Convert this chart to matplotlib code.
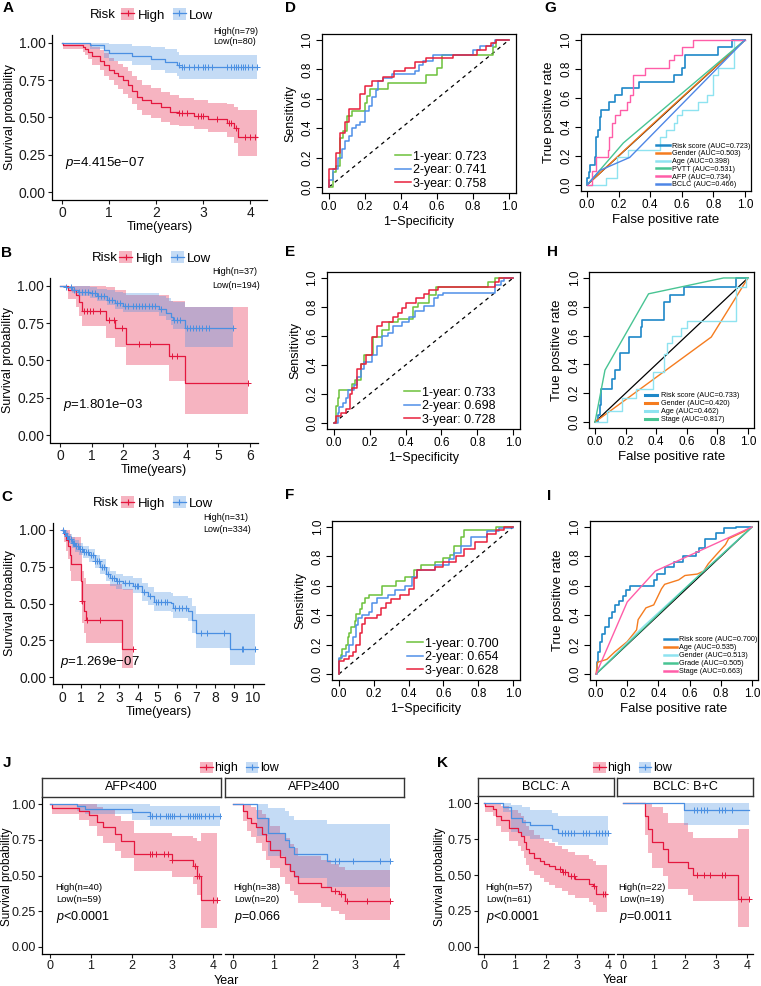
import numpy as np
import matplotlib
matplotlib.use("Agg")
import matplotlib.pyplot as plt
from matplotlib.patches import Patch
from matplotlib.lines import Line2D

plt.rcParams['font.family'] = ['Liberation Sans', 'DejaVu Sans']
plt.rcParams['mathtext.fontset'] = 'custom'
plt.rcParams['mathtext.rm'] = 'Liberation Sans'
plt.rcParams['mathtext.it'] = 'Liberation Sans:italic'

# ---------------- Kaplan-Meier data (time, survival, CI, censor times) ----------------
# Panel A
A_HIGH_T = [0, 0.02, 0.45, 0.5, 0.55, 0.65, 0.8, 0.9, 1.0, 1.1, 1.2, 1.3, 1.4, 1.5, 1.6, 1.7, 1.9, 2.1, 2.3, 2.5, 2.8, 3.1, 3.5, 3.65, 3.75]
A_HIGH_S = [1.0, 0.987, 0.975, 0.96, 0.94, 0.91, 0.88, 0.85, 0.82, 0.80, 0.78, 0.75, 0.72, 0.68, 0.64, 0.62, 0.60, 0.57, 0.54, 0.53, 0.51, 0.49, 0.46, 0.43, 0.37]
A_HIGH_UP = [1.0, 1.0, 1.0, 1.0, 0.99, 0.97, 0.95, 0.93, 0.9, 0.88, 0.86, 0.84, 0.81, 0.78, 0.75, 0.72, 0.7, 0.67, 0.65, 0.63, 0.62, 0.6, 0.59, 0.57, 0.55]
A_HIGH_LO = [1.0, 0.96, 0.94, 0.92, 0.89, 0.85, 0.82, 0.78, 0.75, 0.72, 0.69, 0.66, 0.63, 0.59, 0.55, 0.52, 0.5, 0.47, 0.45, 0.44, 0.42, 0.40, 0.37, 0.33, 0.24]
A_HIGH_END = 4.15
A_HIGH_CENS = [2.5, 2.55, 2.65, 2.9, 2.95, 3.0, 3.3, 3.55, 3.6, 3.7, 3.9, 4.0, 4.1]
A_LOW_T = [0, 0.6, 0.9, 1.0, 1.5, 1.9, 2.2, 2.45, 2.5]
A_LOW_S = [1.0, 0.987, 0.95, 0.935, 0.91, 0.89, 0.875, 0.85, 0.84]
A_LOW_UP = [1.0, 1.0, 1.0, 0.99, 0.98, 0.97, 0.96, 0.94, 0.92]
A_LOW_LO = [1.0, 0.96, 0.9, 0.88, 0.85, 0.82, 0.8, 0.78, 0.76]
A_LOW_END = 4.15
A_LOW_CENS = [2.48, 2.55, 2.6, 2.7, 2.8, 2.9, 3.0, 3.05, 3.1, 3.2, 3.5, 3.6, 3.65, 3.7, 3.75, 3.8, 3.85, 3.9, 3.95, 4.05, 4.15]

# Panel B
B_HIGH_T = [0, 0.25, 0.5, 0.6, 0.68, 1.45, 1.75, 2.1, 3.45, 3.94]
B_HIGH_S = [1.0, 0.97, 0.94, 0.89, 0.83, 0.77, 0.72, 0.61, 0.53, 0.35]
B_HIGH_UP = [1.0, 1.0, 1.0, 1.0, 1.0, 0.99, 0.97, 0.94, 0.9, 0.86]
B_HIGH_LO = [1.0, 0.91, 0.86, 0.80, 0.73, 0.65, 0.59, 0.47, 0.36, 0.14]
B_HIGH_END = 5.94
B_HIGH_CENS = [0.75, 0.85, 0.95, 1.05, 1.25, 1.55, 1.7, 1.95, 2.5, 2.85, 3.55, 3.7, 5.94]
B_LOW_T = [0, 0.2, 0.37, 0.58, 0.95, 1.16, 1.47, 1.74, 2.0, 3.13, 3.36, 3.5, 3.57, 3.94]
B_LOW_S = [1.0, 0.99, 0.97, 0.96, 0.95, 0.93, 0.905, 0.883, 0.865, 0.843, 0.82, 0.79, 0.77, 0.72]
B_LOW_UP = [1.0, 1.0, 1.0, 1.0, 0.99, 0.98, 0.97, 0.96, 0.95, 0.93, 0.92, 0.9, 0.89, 0.86]
B_LOW_LO = [1.0, 0.98, 0.95, 0.935, 0.92, 0.9, 0.87, 0.845, 0.825, 0.8, 0.77, 0.74, 0.71, 0.59]
B_LOW_END = 5.47
B_LOW_CENS = [0.2, 0.35, 0.45, 0.6, 0.7, 0.8, 0.9, 1.0, 1.1, 1.2, 1.3, 1.4, 1.55, 1.65, 1.8, 1.9, 2.05, 2.15,
              2.3, 2.4, 2.5, 2.6, 2.7, 2.8, 2.9, 3.0, 3.2, 3.6, 3.7, 3.8, 4.0, 4.1, 4.2, 4.3, 4.4, 4.5, 4.6, 4.7, 5.47]

# Panel C
C_HIGH_T = [0, 0.1, 0.2, 0.3, 0.4, 0.45, 0.98, 1.02, 1.15, 1.25, 3.15]
C_HIGH_S = [1.0, 0.97, 0.93, 0.89, 0.83, 0.77, 0.65, 0.52, 0.45, 0.39, 0.19]
C_HIGH_UP = [1.0, 1.0, 1.0, 1.0, 0.97, 0.95, 0.86, 0.72, 0.67, 0.63, 0.6]
C_HIGH_LO = [1.0, 0.92, 0.86, 0.8, 0.72, 0.65, 0.5, 0.37, 0.3, 0.23, 0.06]
C_HIGH_END = 3.7
C_HIGH_CENS = [1.05, 1.3, 2.0, 3.7]
C_LOW_T = [0, 0.1, 0.2, 0.3, 0.5, 0.7, 0.9, 1.1, 1.4, 1.7, 2.0, 2.3, 2.5, 2.8, 3.2, 3.7, 4.2, 4.5, 4.8, 5.7, 5.8, 6.6, 6.8, 7.0, 8.8]
C_LOW_S = [1.0, 0.98, 0.96, 0.94, 0.91, 0.89, 0.87, 0.85, 0.83, 0.79, 0.75, 0.70, 0.67, 0.65, 0.64, 0.62, 0.58, 0.55, 0.51, 0.505, 0.47, 0.45, 0.39, 0.30, 0.19]
C_LOW_UP = [1.0, 1.0, 0.99, 0.97, 0.95, 0.93, 0.91, 0.89, 0.87, 0.83, 0.8, 0.75, 0.72, 0.7, 0.69, 0.67, 0.64, 0.61, 0.58, 0.57, 0.55, 0.54, 0.48, 0.43, 0.43]
C_LOW_LO = [1.0, 0.96, 0.93, 0.91, 0.88, 0.85, 0.83, 0.81, 0.78, 0.74, 0.7, 0.65, 0.62, 0.6, 0.59, 0.57, 0.52, 0.49, 0.45, 0.44, 0.4, 0.38, 0.3, 0.2, 0.08]
C_LOW_END = 10.1
C_LOW_CENS = [0.05, 0.15, 0.25, 0.35, 0.45, 0.55, 0.65, 0.75, 0.85, 0.95, 1.05, 1.15, 1.25, 1.35, 1.5, 1.6, 1.75,
              1.85, 1.95, 2.1, 2.2, 2.4, 2.6, 2.7, 2.9, 3.0, 3.3, 3.5, 3.8, 3.9, 4.0, 4.3, 4.6, 4.9, 5.0, 5.2,
              5.4, 5.5, 5.9, 6.1, 6.3, 6.5, 7.3, 7.6, 8.5, 9.4, 9.5, 10.1]

# Panel J, AFP<400
J1_HIGH_T = [0, 0.05, 0.7, 0.95, 1.15, 1.3, 1.6, 1.75, 2.05, 3.0, 3.5, 3.6, 3.72]
J1_HIGH_S = [1.0, 0.975, 0.95, 0.925, 0.875, 0.84, 0.79, 0.74, 0.65, 0.61, 0.57, 0.5, 0.33]
J1_HIGH_UP = [1.0, 1.0, 1.0, 1.0, 0.98, 0.96, 0.92, 0.88, 0.80, 0.78, 0.76, 0.74, 0.80]
J1_HIGH_LO = [1.0, 0.93, 0.89, 0.85, 0.78, 0.73, 0.67, 0.62, 0.53, 0.49, 0.44, 0.36, 0.13]
J1_HIGH_END = 4.1
J1_HIGH_CENS = [2.45, 2.5, 2.6, 2.8, 2.9, 3.0, 3.55, 3.6, 3.65, 4.0, 4.1]
J1_LOW_T = [0, 0.65, 0.85, 2.0, 2.45]
J1_LOW_S = [1.0, 0.985, 0.965, 0.945, 0.92]
J1_LOW_UP = [1.0, 1.0, 1.0, 1.0, 0.99]
J1_LOW_LO = [1.0, 0.95, 0.93, 0.89, 0.85]
J1_LOW_END = 4.17
J1_LOW_CENS = [2.45, 2.5, 2.6, 2.7, 2.85, 2.9, 2.95, 3.0, 3.05, 3.2, 3.4, 3.45, 3.5, 3.55, 3.6, 3.65, 3.7, 3.8, 3.9, 4.0, 4.17]
# Panel J, AFP>=400
J2_HIGH_T = [0, 0.25, 0.35, 0.45, 0.55, 0.7, 0.82, 0.9, 1.15, 1.28, 1.4, 1.5, 1.6, 2.15, 2.4, 2.6, 2.75]
J2_HIGH_S = [1.0, 0.95, 0.9, 0.87, 0.84, 0.79, 0.74, 0.68, 0.63, 0.58, 0.53, 0.5, 0.45, 0.42, 0.39, 0.37, 0.32]
J2_HIGH_UP = [1.0, 1.0, 1.0, 0.98, 0.96, 0.93, 0.9, 0.85, 0.8, 0.76, 0.72, 0.69, 0.64, 0.61, 0.58, 0.56, 0.54]
J2_HIGH_LO = [1.0, 0.88, 0.81, 0.77, 0.73, 0.67, 0.61, 0.55, 0.49, 0.44, 0.39, 0.36, 0.31, 0.28, 0.25, 0.23, 0.19]
J2_HIGH_END = 3.86
J2_HIGH_CENS = [2.5, 2.65, 2.8, 3.3, 3.86]
J2_LOW_T = [0, 0.58, 0.86, 1.28, 1.37, 1.5, 2.3]
J2_LOW_S = [1.0, 0.9, 0.8, 0.75, 0.7, 0.65, 0.6]
J2_LOW_UP = [1.0, 1.0, 0.97, 0.95, 0.92, 0.89, 0.86]
J2_LOW_LO = [1.0, 0.78, 0.64, 0.58, 0.53, 0.48, 0.42]
J2_LOW_END = 3.86
J2_LOW_CENS = [2.5, 2.6, 2.95, 3.6, 3.86]

# Panel K, BCLC: A
K1_HIGH_T = [0, 0.05, 0.3, 0.4, 0.55, 0.8, 1.1, 1.2, 1.28, 1.35, 1.45, 1.6, 1.8, 1.95, 2.1, 2.3, 2.5, 2.7, 2.94, 3.4, 3.5, 3.6]
K1_HIGH_S = [1.0, 0.98, 0.96, 0.91, 0.88, 0.83, 0.8, 0.77, 0.73, 0.68, 0.65, 0.62, 0.6, 0.58, 0.56, 0.54, 0.52, 0.49, 0.47, 0.44, 0.42, 0.37]
K1_HIGH_UP = [1.0, 1.0, 1.0, 1.0, 0.98, 0.95, 0.93, 0.91, 0.88, 0.84, 0.81, 0.78, 0.76, 0.74, 0.72, 0.7, 0.68, 0.66, 0.64, 0.61, 0.6, 0.57]
K1_HIGH_LO = [1.0, 0.94, 0.91, 0.84, 0.8, 0.74, 0.7, 0.67, 0.62, 0.57, 0.53, 0.5, 0.48, 0.45, 0.43, 0.41, 0.39, 0.36, 0.34, 0.31, 0.29, 0.24]
K1_HIGH_END = 3.95
K1_HIGH_CENS = [2.45, 2.55, 2.6, 2.8, 2.9, 3.55, 3.85, 3.9]
K1_LOW_T = [0, 0.6, 0.87, 1.23, 1.5, 2.2, 2.4]
K1_LOW_S = [1.0, 0.975, 0.9, 0.87, 0.85, 0.82, 0.79]
K1_LOW_UP = [1.0, 1.0, 0.99, 0.97, 0.95, 0.93, 0.91]
K1_LOW_LO = [1.0, 0.94, 0.8, 0.77, 0.75, 0.73, 0.71]
K1_LOW_END = 4.0
K1_LOW_CENS = [2.5, 2.6, 2.7, 2.8, 2.9, 3.2, 3.3, 3.4, 3.6, 3.7, 3.8, 3.9, 4.0]
# Panel K, BCLC: B+C
K2_HIGH_T = [0, 0.72, 0.8, 0.95, 1.3, 1.45, 2.1, 2.25, 3.7]
K2_HIGH_S = [1.0, 0.91, 0.82, 0.73, 0.68, 0.59, 0.55, 0.5, 0.33]
K2_HIGH_UP = [1.0, 1.0, 1.0, 0.97, 0.93, 0.86, 0.8, 0.76, 0.82]
K2_HIGH_LO = [1.0, 0.78, 0.65, 0.55, 0.49, 0.4, 0.36, 0.32, 0.14]
K2_HIGH_END = 4.05
K2_HIGH_CENS = [2.4, 2.6, 2.8, 3.2, 3.3, 3.8, 4.05]
K2_LOW_T = [0, 1.97]
K2_LOW_S = [1.0, 0.95]
K2_LOW_UP = [1.0, 1.0]
K2_LOW_LO = [1.0, 0.85]
K2_LOW_END = 4.07
K2_LOW_CENS = [2.3, 2.4, 2.5, 2.6, 2.7, 3.1, 3.2, 3.3, 3.5]

# ---------------- ROC data (fpr, tpr) ----------------
D_1Y_FPR = [0, 0.02, 0.04, 0.06, 0.08, 0.1, 0.13, 0.2, 0.21, 0.23, 0.33, 0.54, 0.6, 0.63, 0.91, 0.93, 1.0]
D_1Y_TPR = [0, 0.1, 0.14, 0.33, 0.38, 0.48, 0.52, 0.57, 0.62, 0.67, 0.71, 0.76, 0.81, 0.9, 0.95, 1.0, 1.0]
D_2Y_FPR = [0, 0, 0.02, 0.05, 0.07, 0.09, 0.11, 0.13, 0.15, 0.17, 0.2, 0.22, 0.24, 0.26, 0.27, 0.3, 0.35, 0.48, 0.5, 0.52, 0.58, 0.8, 0.84, 0.91, 0.92, 1.0]
D_2Y_TPR = [0, 0.05, 0.12, 0.2, 0.26, 0.31, 0.35, 0.4, 0.42, 0.44, 0.52, 0.55, 0.61, 0.66, 0.72, 0.74, 0.77, 0.79, 0.83, 0.86, 0.9, 0.93, 0.96, 0.98, 1.0, 1.0]
D_3Y_FPR = [0, 0, 0.04, 0.06, 0.09, 0.11, 0.17, 0.2, 0.24, 0.3, 0.36, 0.42, 0.48, 0.54, 0.69, 0.82, 0.87, 0.9, 0.93, 1.0]
D_3Y_TPR = [0, 0.12, 0.23, 0.37, 0.44, 0.53, 0.63, 0.69, 0.72, 0.75, 0.79, 0.81, 0.85, 0.88, 0.90, 0.93, 0.96, 0.98, 1.0, 1.0]
D_AUC = ['1-year: 0.723', '2-year: 0.741', '3-year: 0.758']

E_1Y_FPR = [0, 0.01, 0.02, 0.03, 0.1, 0.12, 0.15, 0.17, 0.22, 0.27, 0.31, 0.36, 0.44, 0.47, 0.53, 0.57, 0.86, 0.9, 1.0]
E_1Y_TPR = [0, 0.12, 0.17, 0.23, 0.27, 0.3, 0.41, 0.47, 0.59, 0.64, 0.7, 0.72, 0.8, 0.83, 0.88, 0.94, 0.97, 1.0, 1.0]
E_2Y_FPR = [0, 0.02, 0.03, 0.05, 0.07, 0.08, 0.11, 0.13, 0.15, 0.17, 0.21, 0.24, 0.27, 0.3, 0.33, 0.38, 0.42, 0.45, 0.5, 0.56, 0.58, 0.61, 0.9, 0.93, 0.95, 1.0]
E_2Y_TPR = [0, 0.07, 0.11, 0.14, 0.17, 0.23, 0.26, 0.32, 0.37, 0.42, 0.47, 0.53, 0.6, 0.62, 0.67, 0.7, 0.73, 0.77, 0.81, 0.86, 0.88, 0.9, 0.95, 0.98, 1.0, 1.0]
E_3Y_FPR = [0, 0.01, 0.04, 0.07, 0.09, 0.1, 0.13, 0.15, 0.18, 0.21, 0.24, 0.27, 0.33, 0.36, 0.38, 0.4, 0.46, 0.5, 0.53, 0.58, 0.9, 0.92, 1.0]
E_3Y_TPR = [0, 0.05, 0.07, 0.1, 0.2, 0.24, 0.37, 0.41, 0.47, 0.59, 0.67, 0.7, 0.73, 0.76, 0.79, 0.83, 0.86, 0.89, 0.92, 0.94, 0.97, 1.0, 1.0]
E_AUC = ['1-year: 0.733', '2-year: 0.698', '3-year: 0.728']

F_1Y_FPR = [0, 0, 0.01, 0.02, 0.04, 0.05, 0.06, 0.07, 0.09, 0.1, 0.12, 0.13, 0.15, 0.17, 0.25, 0.33, 0.38, 0.43, 0.47, 0.55, 0.6, 0.64, 0.66, 0.7, 0.72, 0.9, 1.0]
F_1Y_TPR = [0, 0.1, 0.13, 0.17, 0.2, 0.25, 0.28, 0.32, 0.36, 0.41, 0.44, 0.48, 0.52, 0.54, 0.6, 0.63, 0.66, 0.71, 0.74, 0.76, 0.79, 0.81, 0.87, 0.93, 0.98, 1.0, 1.0]
F_2Y_FPR = [0, 0, 0.02, 0.04, 0.06, 0.08, 0.1, 0.11, 0.13, 0.17, 0.19, 0.22, 0.28, 0.32, 0.38, 0.42, 0.45, 0.55, 0.63, 0.66, 0.7, 0.76, 0.85, 0.92, 1.0]
F_2Y_TPR = [0, 0.11, 0.12, 0.15, 0.2, 0.25, 0.33, 0.38, 0.4, 0.42, 0.48, 0.52, 0.54, 0.57, 0.6, 0.66, 0.71, 0.74, 0.78, 0.82, 0.87, 0.93, 0.97, 0.99, 1.0]
F_3Y_FPR = [0, 0, 0.03, 0.06, 0.08, 0.1, 0.12, 0.13, 0.15, 0.22, 0.24, 0.27, 0.3, 0.35, 0.4, 0.43, 0.45, 0.55, 0.6, 0.67, 0.72, 0.78, 0.85, 0.9, 0.95, 1.0]
F_3Y_TPR = [0, 0.09, 0.1, 0.12, 0.15, 0.2, 0.28, 0.34, 0.38, 0.4, 0.45, 0.48, 0.51, 0.54, 0.58, 0.65, 0.71, 0.73, 0.76, 0.8, 0.85, 0.9, 0.95, 0.98, 1.0, 1.0]
F_AUC = ['1-year: 0.700', '2-year: 0.654', '3-year: 0.628']

G_RISK_FPR = [0, 0, 0.01, 0.02, 0.05, 0.06, 0.07, 0.08, 0.09, 0.14, 0.18, 0.22, 0.33, 0.55, 0.6, 0.62, 0.83, 0.92, 1.0]
G_RISK_TPR = [0, 0.05, 0.09, 0.14, 0.19, 0.33, 0.38, 0.47, 0.52, 0.57, 0.62, 0.67, 0.71, 0.76, 0.81, 0.9, 0.95, 1.0, 1.0]
G_GENDER_FPR = [0, 0.5, 1.0]
G_GENDER_TPR = [0, 0.505, 1.0]
G_AGE_FPR = [0, 0.12, 0.19, 0.26, 0.46, 0.5, 0.55, 0.57, 0.6, 0.7, 0.76, 0.8, 0.83, 0.93, 1.0]
G_AGE_TPR = [0, 0.05, 0.19, 0.24, 0.33, 0.38, 0.43, 0.48, 0.52, 0.57, 0.62, 0.76, 0.81, 1.0, 1.0]
G_PVTT_FPR = [0, 0.23, 1.0]
G_PVTT_TPR = [0, 0.29, 1.0]
G_AFP_FPR = [0, 0.03, 0.06, 0.13, 0.14, 0.16, 0.18, 0.21, 0.25, 0.27, 0.29, 0.37, 0.52, 0.55, 0.6, 0.67, 1.0]
G_AFP_TPR = [0, 0.1, 0.19, 0.24, 0.33, 0.43, 0.48, 0.52, 0.57, 0.62, 0.76, 0.81, 0.86, 0.9, 0.95, 1.0, 1.0]
G_BCLC_FPR = [0, 0.08, 0.27, 1.0]
G_BCLC_TPR = [0, 0.1, 0.19, 1.0]
G_LABELS = ['Risk score (AUC=0.723)', 'Gender (AUC=0.503)', 'Age (AUC=0.398)',
            'PVTT (AUC=0.531)', 'AFP (AUC=0.734)', 'BCLC (AUC=0.466)']

H_RISK_FPR = [0, 0.02, 0.03, 0.04, 0.11, 0.13, 0.165, 0.22, 0.3, 0.31, 0.45, 0.49, 0.58, 0.92, 1.0]
H_RISK_TPR = [0, 0.05, 0.12, 0.23, 0.3, 0.36, 0.48, 0.59, 0.66, 0.71, 0.83, 0.88, 0.94, 1.0, 1.0]
H_GENDER_FPR = [0, 0.76, 1.0]
H_GENDER_TPR = [0, 0.59, 1.0]
H_AGE_FPR = [0, 0.08, 0.175, 0.27, 0.38, 0.45, 0.47, 0.5, 0.56, 0.6, 0.92, 0.99, 1.0]
H_AGE_TPR = [0, 0.08, 0.165, 0.23, 0.35, 0.47, 0.55, 0.6, 0.65, 0.7, 0.94, 1.0, 1.0]
H_STAGE_FPR = [0, 0.065, 0.35, 0.84, 1.0]
H_STAGE_TPR = [0, 0.36, 0.89, 1.0, 1.0]
H_LABELS = ['Risk score (AUC=0.733)', 'Gender (AUC=0.420)', 'Age (AUC=0.462)', 'Stage (AUC=0.817)']

I_RISK_FPR = [0, 0.005, 0.015, 0.025, 0.04, 0.06, 0.08, 0.1, 0.12, 0.15, 0.17, 0.19, 0.22, 0.37, 0.39, 0.44, 0.5, 0.56, 0.64, 0.66, 0.7, 0.77, 0.82, 0.9, 1.0]
I_RISK_TPR = [0, 0.08, 0.15, 0.22, 0.27, 0.32, 0.38, 0.42, 0.47, 0.5, 0.53, 0.57, 0.6, 0.64, 0.68, 0.73, 0.76, 0.8, 0.83, 0.86, 0.92, 0.96, 0.99, 1.0, 1.0]
I_AGE_FPR = [0, 0.01, 0.07, 0.12, 0.2, 0.26, 0.27, 0.32, 0.37, 0.42, 0.44, 0.53, 0.57, 0.65, 0.69, 0.72, 0.77, 0.83, 0.85, 0.95, 1.0]
I_AGE_TPR = [0, 0.08, 0.1, 0.15, 0.22, 0.3, 0.37, 0.45, 0.47, 0.58, 0.61, 0.64, 0.67, 0.68, 0.7, 0.75, 0.81, 0.88, 0.92, 0.97, 1.0]
I_GENDER_FPR = [0, 0.3, 0.7, 1.0]
I_GENDER_TPR = [0, 0.32, 0.71, 1.0]
I_GRADE_FPR = [0, 0.6, 1.0]
I_GRADE_TPR = [0, 0.61, 1.0]
I_STAGE_FPR = [0, 0.2, 0.38, 1.0]
I_STAGE_TPR = [0, 0.49, 0.70, 1.0]
I_LABELS = ['Risk score (AUC=0.700)', 'Age (AUC=0.535)', 'Gender (AUC=0.513)',
            'Grade (AUC=0.505)', 'Stage (AUC=0.663)']

SURV_TICKS = [0, 0.25, 0.5, 0.75, 1.0]
SURV_TICKLABELS = ['0.00', '0.25', '0.50', '0.75', '1.00']
ROC_TICKS = [0, 0.2, 0.4, 0.6, 0.8, 1.0]
ROC_TICKLABELS = ['0.0', '0.2', '0.4', '0.6', '0.8', '1.0']

RED, BLUE = '#E4173E', '#4A8FE2'
C_GREEN, C_BLUE, C_RED = '#6CC13B', '#4F8FE8', '#E8203C'
C_RISK, C_ORANGE, C_CYAN = '#1E88C8', '#F57C1F', '#8EE3F0'
C_TEAL, C_PINK, C_BCLC = '#48C493', '#FF5DA8', '#4E86E6'

W, H = 761, 986
fig = plt.figure(figsize=(W / 100, H / 100), dpi=100)


def px_axes(l, t, r, b):
    return fig.add_axes([l / W, 1 - b / H, (r - l) / W, (b - t) / H])


def ftext(x, y, s, **kw):
    fig.text(x / W, 1 - y / H, s, **kw)


def km(ax, t, s, lo, hi, end, cens, color):
    t = np.asarray(t, float)
    s = np.asarray(s, float)
    tt = np.append(t, end)
    ax.fill_between(tt, np.append(lo, lo[-1]), np.append(hi, hi[-1]), step='post',
                    color=color, alpha=0.32, lw=0)
    ax.step(tt, np.append(s, s[-1]), where='post', color=color, lw=0.9)
    idx = np.searchsorted(t, cens, side='right') - 1
    ax.plot(cens, s[idx], ls='none', marker='+', color=color, ms=4, mew=0.7)


def km_axes(ax, xlim, xticks, yaxis=True, size=10):
    ax.set_xlim(*xlim)
    ax.set_ylim(-0.05, 1.05)
    ax.set_xticks(xticks)
    ax.spines[['top', 'right']].set_visible(False)
    if yaxis:
        ax.set_yticks(SURV_TICKS)
        ax.set_yticklabels(SURV_TICKLABELS)
    else:
        ax.spines['left'].set_visible(False)
        ax.set_yticks([])
    ax.tick_params(labelsize=size, length=3, width=0.8, pad=1.5, colors='#1a1a1a')
    for sp in ax.spines.values():
        sp.set_linewidth(0.9)
    ax.patch.set_alpha(0)


def km_handles():
    return [(Patch(facecolor=RED, alpha=0.32, edgecolor='none'),
             Line2D([], [], color=RED, lw=0.9, marker='+', ms=5, mew=0.8)),
            (Patch(facecolor=BLUE, alpha=0.32, edgecolor='none'),
             Line2D([], [], color=BLUE, lw=0.9, marker='+', ms=5, mew=0.8))]


def risk_legend(x_title, x_hand, y, labels, title='Risk', size=9.5, textpad=0.25):
    if title:
        ftext(x_title, y, title, fontsize=size, va='center', ha='left')
    fig.legend(km_handles(), labels, loc='center left', bbox_to_anchor=(x_hand / W, 1 - y / H),
               ncol=2, frameon=False, fontsize=size, handlelength=1.0, handleheight=1.0,
               handletextpad=textpad, columnspacing=0.6, borderpad=0, borderaxespad=0)


def pval(x, y, rest, size=9.5):
    ftext(x, y, r'$\it{p}$' + rest, fontsize=size, va='center', ha='left')


def roc_axes(ax, xlabel, ylabel, lsize=9):
    ax.set_xlim(-0.04, 1.04)
    ax.set_ylim(-0.04, 1.04)
    ax.set_xticks(ROC_TICKS)
    ax.set_xticklabels(ROC_TICKLABELS)
    ax.set_yticks(ROC_TICKS)
    ax.set_yticklabels(ROC_TICKLABELS, rotation=90, va='center')
    ax.tick_params(labelsize=8.5, length=4, width=0.8, pad=2)
    for sp in ax.spines.values():
        sp.set_linewidth(0.9)
    ax.set_xlabel(xlabel, fontsize=lsize, labelpad=2)
    ax.set_ylabel(ylabel, fontsize=lsize, labelpad=4)


def roc(ax, fpr, tpr, color, steps=True, lw=1.0):
    ax.plot(fpr, tpr, color=color, lw=lw, drawstyle='steps-post' if steps else 'default')


# ---------------- KM panels A, B, C ----------------
ax = px_axes(52, 35.5, 267, 199.5)
km(ax, A_HIGH_T, A_HIGH_S, A_HIGH_LO, A_HIGH_UP, A_HIGH_END, A_HIGH_CENS, RED)
km(ax, A_LOW_T, A_LOW_S, A_LOW_LO, A_LOW_UP, A_LOW_END, A_LOW_CENS, BLUE)
km_axes(ax, (-0.21, 4.36), [0, 1, 2, 3, 4])
ax.set_xlabel('Time(years)', fontsize=9, labelpad=1)
ax.set_ylabel('Survival probability', fontsize=9, labelpad=2)
risk_legend(90, 121, 15, ['High', 'Low'])
ftext(213, 31, 'High(n=79)', fontsize=6.5, va='center')
ftext(213, 41, 'Low(n=80)', fontsize=6.5, va='center')
pval(65, 163, '=4.415e\u221207')

ax = px_axes(50.5, 278.5, 257.6, 442.5)
km(ax, B_HIGH_T, B_HIGH_S, B_HIGH_LO, B_HIGH_UP, B_HIGH_END, B_HIGH_CENS, RED)
km(ax, B_LOW_T, B_LOW_S, B_LOW_LO, B_LOW_UP, B_LOW_END, B_LOW_CENS, BLUE)
km_axes(ax, (-0.3, 6.24), [0, 1, 2, 3, 4, 5, 6])
ax.set_xlabel('Time(years)', fontsize=9, labelpad=1)
ax.set_ylabel('Survival probability', fontsize=9, labelpad=2)
risk_legend(92, 119, 258, ['High', 'Low'])
ftext(212, 272, 'High(n=37)', fontsize=6.5, va='center')
ftext(212, 285, 'Low(n=194)', fontsize=6.5, va='center')
pval(63, 405, '=1.801e\u221203')

ax = px_axes(52.5, 522.6, 264.5, 684.4)
km(ax, C_HIGH_T, C_HIGH_S, C_HIGH_LO, C_HIGH_UP, C_HIGH_END, C_HIGH_CENS, RED)
km(ax, C_LOW_T, C_LOW_S, C_LOW_LO, C_LOW_UP, C_LOW_END, C_LOW_CENS, BLUE)
km_axes(ax, (-0.5, 10.6), list(range(11)))
ax.set_xlabel('Time(years)', fontsize=9, labelpad=1)
ax.set_ylabel('Survival probability', fontsize=9, labelpad=2)
risk_legend(93, 121, 503, ['High', 'Low'])
ftext(203, 518, 'High(n=31)', fontsize=6.5, va='center')
ftext(203, 530, 'Low(n=334)', fontsize=6.5, va='center')
pval(60, 662, '=1.269e\u221207')

# ---------------- ROC panels D, E, F ----------------
for box, curves, labels, lx in [
        ((321.8, 34.1, 516.2, 192.9), [(D_1Y_FPR, D_1Y_TPR), (D_2Y_FPR, D_2Y_TPR), (D_3Y_FPR, D_3Y_TPR)], D_AUC, 0.377),
        ((326.8, 272.2, 520.2, 428.8), [(E_1Y_FPR, E_1Y_TPR), (E_2Y_FPR, E_2Y_TPR), (E_3Y_FPR, E_3Y_TPR)], E_AUC, 0.40),
        ((332, 521.1, 520, 679.9), [(F_1Y_FPR, F_1Y_TPR), (F_2Y_FPR, F_2Y_TPR), (F_3Y_FPR, F_3Y_TPR)], F_AUC, 0.40)]:
    ax = px_axes(*box)
    ax.plot([0, 1], [0, 1], color='black', lw=0.9, ls=(0, (3, 3)))
    for (fx, fy), col in zip(curves, [C_GREEN, C_BLUE, C_RED]):
        roc(ax, fx, fy, col, lw=1.1)
    roc_axes(ax, '1\u2212Specificity', 'Sensitivity')
    hs = [Line2D([], [], color=c, lw=1.1) for c in [C_GREEN, C_BLUE, C_RED]]
    ax.legend(hs, labels, loc='lower left', bbox_to_anchor=(lx, 0.02), frameon=False,
              fontsize=9, handlelength=1.3, handletextpad=0.15, labelspacing=0.12,
              borderpad=0, borderaxespad=0)

# ---------------- ROC panels G, H, I ----------------
ax = px_axes(580.7, 34.2, 751.3, 190.8)
ax.plot([0, 1], [0, 1], color='black', lw=0.9)
roc(ax, G_RISK_FPR, G_RISK_TPR, C_RISK, lw=1.2)
roc(ax, G_GENDER_FPR, G_GENDER_TPR, C_ORANGE, steps=False)
roc(ax, G_AGE_FPR, G_AGE_TPR, C_CYAN)
roc(ax, G_PVTT_FPR, G_PVTT_TPR, C_TEAL, steps=False)
roc(ax, G_AFP_FPR, G_AFP_TPR, C_PINK)
roc(ax, G_BCLC_FPR, G_BCLC_TPR, C_BCLC, steps=False)
roc_axes(ax, 'False positive rate', 'True positive rate', lsize=9.5)
hs = [Line2D([], [], color=c, lw=1.8) for c in [C_RISK, C_ORANGE, C_CYAN, C_TEAL, C_PINK, C_BCLC]]
ax.legend(hs, G_LABELS, loc='lower left', bbox_to_anchor=(0.44, 0.015), frameon=False,
          fontsize=5.2, handlelength=2.0, handletextpad=0.3, labelspacing=0.1,
          borderpad=0, borderaxespad=0)

ax = px_axes(588.9, 272.2, 754.1, 427.8)
ax.plot([0, 1], [0, 1], color='black', lw=0.9)
roc(ax, H_RISK_FPR, H_RISK_TPR, C_RISK, lw=1.2)
roc(ax, H_GENDER_FPR, H_GENDER_TPR, C_ORANGE, steps=False)
roc(ax, H_AGE_FPR, H_AGE_TPR, C_CYAN)
roc(ax, H_STAGE_FPR, H_STAGE_TPR, C_TEAL, steps=False)
roc_axes(ax, 'False positive rate', 'True positive rate', lsize=9.5)
hs = [Line2D([], [], color=c, lw=2.2) for c in [C_RISK, C_ORANGE, C_CYAN, C_TEAL]]
ax.legend(hs, H_LABELS, loc='lower left', bbox_to_anchor=(0.34, 0.03), frameon=False,
          fontsize=5.2, handlelength=1.7, handletextpad=0.5, labelspacing=0.12,
          borderpad=0, borderaxespad=0)

ax = px_axes(589.8, 521.1, 758.2, 679.9)
ax.plot([0, 1], [0, 1], color='black', lw=0.9)
roc(ax, I_RISK_FPR, I_RISK_TPR, C_RISK, lw=1.2)
roc(ax, I_AGE_FPR, I_AGE_TPR, C_ORANGE, steps=False)
roc(ax, I_GENDER_FPR, I_GENDER_TPR, C_CYAN, steps=False)
roc(ax, I_GRADE_FPR, I_GRADE_TPR, C_TEAL, steps=False)
roc(ax, I_STAGE_FPR, I_STAGE_TPR, C_PINK, steps=False)
roc_axes(ax, 'False positive rate', 'True positive rate', lsize=9.5)
hs = [Line2D([], [], color=c, lw=1.8) for c in [C_RISK, C_ORANGE, C_CYAN, C_TEAL, C_PINK]]
ax.legend(hs, I_LABELS, loc='lower left', bbox_to_anchor=(0.44, 0.03), frameon=False,
          fontsize=5.2, handlelength=1.8, handletextpad=0.3, labelspacing=0.12,
          borderpad=0, borderaxespad=0)

# ---------------- faceted KM panels J, K ----------------
def strip(l, t, r, b, label):
    sax = px_axes(l, t, r, b)
    sax.set_xticks([])
    sax.set_yticks([])
    for sp in sax.spines.values():
        sp.set_linewidth(1.0)
        sp.set_color('#333333')
    sax.text(0.5, 0.5, label, transform=sax.transAxes, ha='center', va='center', fontsize=9)


facets = [
    ((42, 797, 221, 954), 'AFP<400', (-0.2, 4.2), True,
     (J1_HIGH_T, J1_HIGH_S, J1_HIGH_LO, J1_HIGH_UP, J1_HIGH_END, J1_HIGH_CENS),
     (J1_LOW_T, J1_LOW_S, J1_LOW_LO, J1_LOW_UP, J1_LOW_END, J1_LOW_CENS)),
    ((225, 797, 404, 954), 'AFP\u2265400', (-0.2, 4.2), False,
     (J2_HIGH_T, J2_HIGH_S, J2_HIGH_LO, J2_HIGH_UP, J2_HIGH_END, J2_HIGH_CENS),
     (J2_LOW_T, J2_LOW_S, J2_LOW_LO, J2_LOW_UP, J2_LOW_END, J2_LOW_CENS)),
    ((478, 796, 614, 954), 'BCLC: A', (-0.19, 4.19), True,
     (K1_HIGH_T, K1_HIGH_S, K1_HIGH_LO, K1_HIGH_UP, K1_HIGH_END, K1_HIGH_CENS),
     (K1_LOW_T, K1_LOW_S, K1_LOW_LO, K1_LOW_UP, K1_LOW_END, K1_LOW_CENS)),
    ((617, 796, 753, 954), 'BCLC: B+C', (-0.19, 4.19), False,
     (K2_HIGH_T, K2_HIGH_S, K2_HIGH_LO, K2_HIGH_UP, K2_HIGH_END, K2_HIGH_CENS),
     (K2_LOW_T, K2_LOW_S, K2_LOW_LO, K2_LOW_UP, K2_LOW_END, K2_LOW_CENS)),
]
for (l, t, r, b), label, xlim, yaxis, hi, lo in facets:
    ax = px_axes(l, t, r, b)
    km(ax, *hi, RED)
    km(ax, *lo, BLUE)
    km_axes(ax, xlim, [0, 1, 2, 3, 4], yaxis=yaxis, size=9)
    strip(l, 778, r, t, label)

ftext(7, 877, 'Survival probability', fontsize=8.5, rotation=90, ha='center', va='center')
ftext(440, 877, 'Survival probability', fontsize=8.5, rotation=90, ha='center', va='center')
ftext(226, 981, 'Year', fontsize=9, ha='center', va='center')
ftext(615, 980, 'Year', fontsize=9, ha='center', va='center')

# J/K legends (no title)
for xh in [200, 593]:
    risk_legend(0, xh, 768, ['high', 'low'], title=None, size=9, textpad=0.15)

for x, hi_txt, lo_txt, p in [(55, 'High(n=40)', 'Low(n=59)', '<0.0001'),
                             (233, 'High(n=38)', 'Low(n=20)', '=0.066'),
                             (485, 'High(n=57)', 'Low(n=61)', '<0.0001'),
                             (618, 'High(n=22)', 'Low(n=19)', '=0.0011')]:
    ftext(x, 887, hi_txt, fontsize=6.8, va='center')
    ftext(x + 1, 900, lo_txt, fontsize=6.8, va='center')
    pval(x + 1, 917, p, size=9)

# ---------------- panel letters ----------------
for letter, x, y in [('A', 8, 8), ('D', 290, 8), ('G', 550, 8),
                     ('B', 7, 253), ('E', 290, 252), ('H', 552, 252),
                     ('C', 7, 497), ('F', 290, 495), ('I', 549, 496),
                     ('J', 7, 763), ('K', 442, 763)]:
    ftext(x, y, letter, fontsize=11, fontweight='bold', ha='center', va='center')

fig.savefig('out.png', dpi=100)
